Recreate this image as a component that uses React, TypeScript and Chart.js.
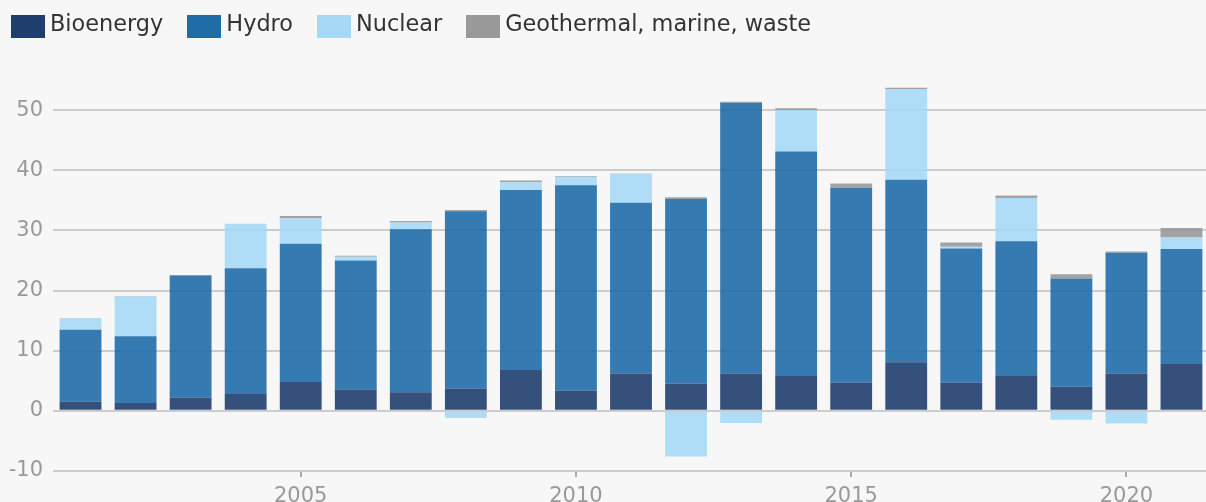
import React, { useEffect, useRef } from "react";
import { Chart, registerables } from "chart.js";

Chart.register(...registerables);

const years = [2001, 2002, 2003, 2004, 2005, 2006, 2007, 2008, 2009, 2010, 2011, 2012, 2013, 2014, 2015, 2016, 2017, 2018, 2019, 2020, 2021];
const bioenergy = [1.5, 1.3, 2.2, 2.8, 4.8, 3.5, 3.1, 3.7, 6.8, 3.4, 6.2, 4.5, 6.2, 5.8, 4.7, 8.1, 4.7, 5.9, 4.0, 6.2, 7.8];
const hydro = [12.0, 11.1, 20.3, 20.9, 23.0, 21.5, 27.1, 29.5, 29.9, 34.1, 28.4, 30.7, 45.0, 37.3, 32.4, 30.3, 22.3, 22.3, 18.0, 20.1, 19.1];
const nuclear = [1.9, 6.6, -0.1, 7.4, 4.2, 0.6, 1.1, -1.2, 1.3, 1.4, 4.8, -7.6, -2.0, 6.9, -0.1, 15.1, 0.3, 7.2, -1.5, -2.1, 1.9];
const geothermal = [0.05, 0.1, 0.1, 0, 0.4, 0.2, 0.25, 0.2, 0.3, 0.15, 0.05, 0.3, 0.2, 0.3, 0.7, 0.2, 0.7, 0.4, 0.7, 0.2, 1.6];
const seriesNames = ["Bioenergy", "Hydro", "Nuclear", "Geothermal, marine, waste"];
const legendColors = ["#1f3e6d", "#1f6ca7", "#a6d9f6", "#999999"];
const barColors = ["rgba(31,62,109,0.9)", "rgba(31,108,167,0.9)", "rgba(166,217,246,0.9)", "rgba(153,153,153,0.9)"];
const yTicks = [-10, 0, 10, 20, 30, 40, 50];

const FONT = "'DejaVu Sans', sans-serif";

export default function App() {
  const ref = useRef<HTMLCanvasElement>(null);

  useEffect(() => {
    document.body.style.background = "#f7f7f7";
    const ctx = ref.current!.getContext("2d")!;
    const series = [bioenergy, hydro, nuclear, geothermal];
    const chart = new Chart(ctx, {
      type: "bar",
      data: {
        labels: years.map(String),
        datasets: series.map((d, i) => ({
          label: seriesNames[i],
          data: d,
          backgroundColor: barColors[i],
          borderWidth: 0,
          categoryPercentage: 1,
          barPercentage: 0.76,
        })),
      },
      options: {
        responsive: false,
        animation: false,
        layout: { padding: { top: 74, right: 3, left: 0, bottom: 0 } },
        plugins: { legend: { display: false }, tooltip: { enabled: false } },
        scales: {
          x: {
            stacked: true,
            offset: true,
            afterFit: (s: any) => { s.height = 31; },
            border: { display: false },
            grid: {
              offset: false,
              drawOnChartArea: false,
              drawTicks: true,
              tickLength: 6,
              lineWidth: 2,
              color: (c: any) => (years[c.index] % 5 === 0 ? "#aaaaaa" : "rgba(0,0,0,0)"),
            },
            ticks: {
              autoSkip: false,
              maxRotation: 0,
              padding: 7,
              color: "#999999",
              font: { family: FONT, size: 21 },
              callback: (_v: any, i: number) => (years[i] % 5 === 0 ? String(years[i]) : ""),
            },
          },
          y: {
            stacked: true,
            min: -10,
            max: 56,
            afterFit: (s: any) => { s.width = 53; },
            afterBuildTicks: (s: any) => { s.ticks = yTicks.map((v) => ({ value: v })); },
            border: { display: false },
            grid: { drawTicks: false, color: "#cccccc", lineWidth: 2 },
            ticks: {
              padding: 10,
              color: "#999999",
              font: { family: FONT, size: 21 },
              callback: (v: any) => String(v),
            },
          },
        },
      },
    });
    return () => chart.destroy();
  }, []);

  return (
    <div style={{ position: "fixed", left: 0, top: 0, width: 1206, height: 502, overflow: "hidden", background: "#f7f7f7" }}>
      <canvas ref={ref} width={1212} height={502} style={{ position: "absolute", left: 0, top: 0, width: 1212, height: 502 }} />
      <div style={{ position: "absolute", left: 11, top: 15, display: "flex", fontFamily: FONT, fontSize: 22.4, color: "#333333", lineHeight: "23px" }}>
        {seriesNames.map((n, i) => (
          <div key={n} style={{ display: "flex", marginRight: 24 }}>
            <div style={{ width: 34, height: 23, background: legendColors[i], marginRight: 5 }} />
            <span style={{ position: "relative", top: -3, whiteSpace: "nowrap" }}>{n}</span>
          </div>
        ))}
      </div>
    </div>
  );
}
